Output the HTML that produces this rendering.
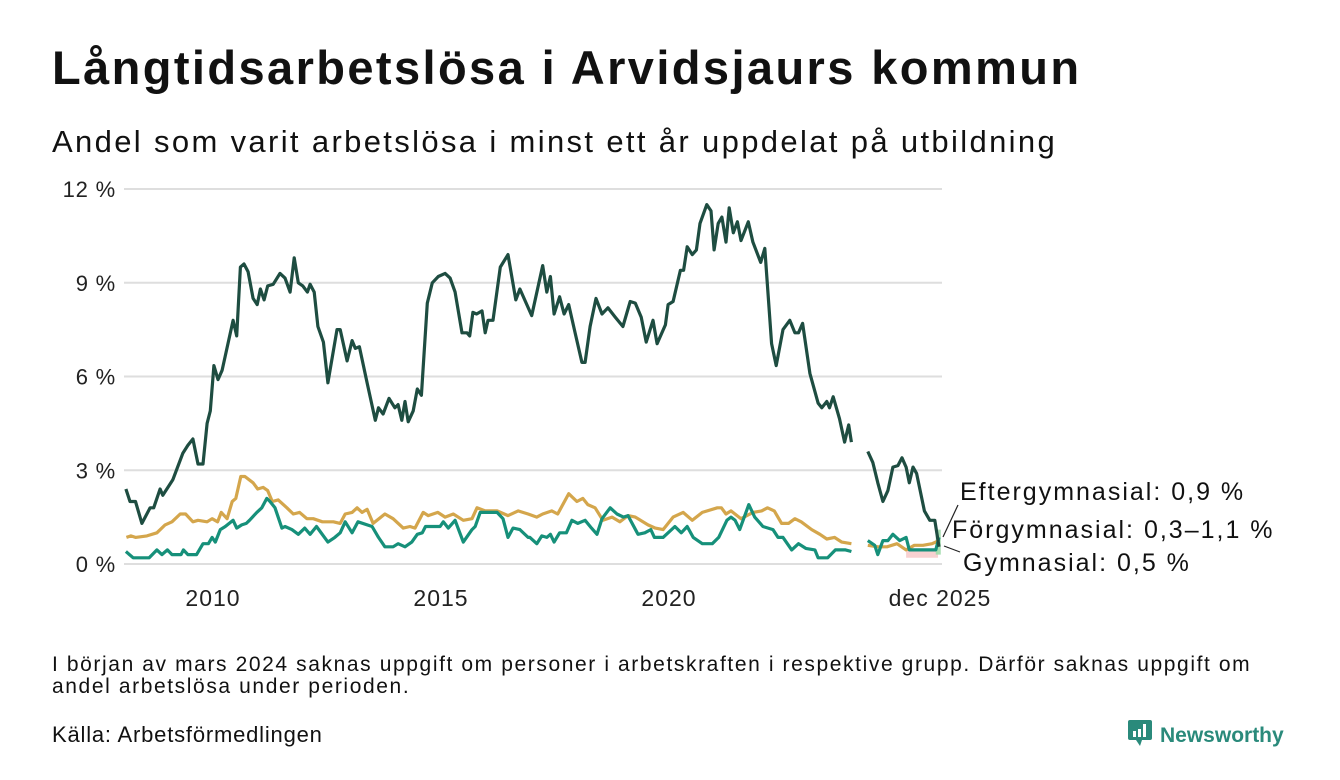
<!DOCTYPE html>
<html><head><meta charset="utf-8">
<style>
body{margin:0;background:#fff;width:1340px;height:780px;overflow:hidden;font-family:"Liberation Sans","DejaVu Sans",sans-serif;color:#111}
#title{position:absolute;left:52px;top:40px;font-size:47px;font-weight:bold;margin:0;letter-spacing:2.4px;white-space:nowrap}
#sub{position:absolute;left:52px;top:124px;font-size:31px;margin:0;letter-spacing:2.35px;white-space:nowrap}
#foot{position:absolute;left:52px;top:654px;font-size:21px;line-height:22px;width:1215px;letter-spacing:1.6px}
#src{position:absolute;left:52px;top:722px;font-size:22px;letter-spacing:0.8px}
#logo{position:absolute;left:1128px;top:718px;font-size:21px;color:#2a8a7b;font-weight:bold}
svg{position:absolute;left:0;top:0}
</style></head><body>
<h1 id="title">Långtidsarbetslösa i Arvidsjaurs kommun</h1>
<p id="sub">Andel som varit arbetslösa i minst ett år uppdelat på utbildning</p>
<svg id="chart" width="1340" height="780"></svg>
<div id="foot">I början av mars 2024 saknas uppgift om personer i arbetskraften i respektive grupp. Därför saknas uppgift om andel arbetslösa under perioden.</div>
<div id="src">Källa: Arbetsförmedlingen</div>
<div id="logo"><svg width="26" height="30" style="position:relative;vertical-align:-6px;margin-right:6px"><rect x="0" y="2" width="24" height="20" rx="2" fill="#2a8a7b"/><path d="M8 22 L12 28 L14 22Z" fill="#2a8a7b"/><rect x="5" y="13" width="3" height="6" fill="#fff"/><rect x="10" y="11" width="3" height="8" fill="#fff"/><rect x="15" y="6" width="3" height="13" fill="#fff"/></svg>Newsworthy</div>
<script>
const yTicks=[0,3,6,9,12];
const yTickLabels=["0 %","3 %","6 %","9 %","12 %"];
const xTicks=[2010,2015,2020,2025.92];
const xTickLabels=["2010","2015","2020","dec 2025"];
const forDates=[2008.09,2008.18,2008.3,2008.44,2008.62,2008.7,2008.84,2008.9,2009.12,2009.34,2009.45,2009.56,2009.67,2009.78,2009.87,2009.94,2010.02,2010.11,2010.2,2010.44,2010.52,2010.6,2010.68,2010.77,2010.88,2010.97,2011.04,2011.12,2011.2,2011.32,2011.47,2011.58,2011.69,2011.78,2011.87,2011.97,2012.07,2012.13,2012.22,2012.3,2012.42,2012.52,2012.72,2012.79,2012.94,2013.05,2013.12,2013.21,2013.38,2013.56,2013.63,2013.73,2013.86,2013.99,2014.06,2014.14,2014.21,2014.28,2014.39,2014.48,2014.57,2014.7,2014.81,2014.94,2015.09,2015.2,2015.31,2015.46,2015.57,2015.63,2015.7,2015.78,2015.9,2015.97,2016.03,2016.14,2016.3,2016.47,2016.64,2016.73,2016.99,2017.23,2017.32,2017.4,2017.48,2017.6,2017.7,2017.8,2017.94,2018.09,2018.16,2018.27,2018.4,2018.53,2018.66,2018.82,2018.99,2019.15,2019.26,2019.39,2019.5,2019.65,2019.74,2019.92,2019.98,2020.09,2020.25,2020.32,2020.4,2020.51,2020.6,2020.68,2020.83,2020.92,2020.99,2021.08,2021.16,2021.25,2021.32,2021.41,2021.5,2021.58,2021.74,2021.84,2022.01,2022.1,2022.25,2022.35,2022.5,2022.65,2022.76,2022.84,2022.93,2023.09,2023.27,2023.35,2023.46,2023.52,2023.6,2023.74,2023.85,2023.94,2024.0,null,2024.36,2024.47,2024.58,2024.69,2024.8,2024.91,2025.02,2025.11,2025.2,2025.27,2025.35,2025.43,2025.6,2025.72,2025.83,2025.92];
const forVals=[2.4,2.0,2.0,1.3,1.8,1.8,2.4,2.2,2.7,3.55,3.8,4.0,3.2,3.2,4.5,4.9,6.35,5.9,6.2,7.8,7.3,9.5,9.6,9.35,8.5,8.3,8.8,8.45,8.9,8.95,9.3,9.15,8.7,9.8,9.0,8.9,8.7,8.95,8.7,7.6,7.1,5.8,7.5,7.5,6.5,7.15,6.9,6.95,5.8,4.6,5.0,4.8,5.3,5.0,5.1,4.6,5.2,4.55,4.9,5.6,5.4,8.35,9.0,9.2,9.3,9.15,8.7,7.4,7.4,7.3,8.05,8.0,8.1,7.4,7.8,7.8,9.5,9.9,8.45,8.8,7.95,9.55,8.7,9.2,8.0,8.55,8.0,8.3,7.4,6.45,6.45,7.6,8.5,8.0,8.2,7.9,7.6,8.4,8.35,7.9,7.1,7.8,7.05,7.65,8.3,8.4,9.4,9.4,10.15,9.9,10.05,10.9,11.5,11.3,10.05,10.9,11.1,10.3,11.4,10.6,10.95,10.35,10.95,10.3,9.65,10.1,7.05,6.35,7.5,7.8,7.4,7.4,7.7,6.1,5.15,5.0,5.2,5.0,5.35,4.65,3.9,4.45,3.9,null,3.6,3.25,2.6,2.0,2.35,3.1,3.15,3.4,3.1,2.6,3.1,2.9,1.7,1.4,1.4,0.55];
const gymDates=[2008.1,2008.2,2008.3,2008.55,2008.77,2008.95,2009.1,2009.28,2009.4,2009.56,2009.67,2009.87,2009.98,2010.1,2010.18,2010.31,2010.42,2010.5,2010.61,2010.7,2010.88,2010.98,2011.1,2011.2,2011.3,2011.43,2011.62,2011.76,2011.9,2012.06,2012.2,2012.4,2012.64,2012.79,2012.9,2013.05,2013.16,2013.27,2013.38,2013.51,2013.77,2013.95,2014.17,2014.32,2014.43,2014.61,2014.72,2014.93,2015.09,2015.27,2015.49,2015.68,2015.79,2015.97,2016.23,2016.47,2016.69,2016.91,2017.1,2017.23,2017.43,2017.56,2017.8,2017.98,2018.11,2018.22,2018.38,2018.55,2018.75,2018.92,2019.1,2019.26,2019.54,2019.7,2019.87,2020.09,2020.31,2020.51,2020.73,2021.06,2021.15,2021.25,2021.36,2021.58,2021.84,2022.03,2022.16,2022.31,2022.47,2022.62,2022.76,2022.9,2023.13,2023.31,2023.46,2023.63,2023.79,2024.0,null,2024.36,2024.58,2024.78,2025.0,2025.2,2025.38,2025.57,2025.77,2025.92];
const gymVals=[0.85,0.9,0.85,0.9,1.0,1.25,1.35,1.6,1.6,1.35,1.4,1.35,1.45,1.35,1.65,1.45,2.0,2.1,2.8,2.8,2.6,2.4,2.45,2.35,2.0,2.05,1.8,1.6,1.65,1.45,1.45,1.35,1.35,1.3,1.6,1.65,1.8,1.65,1.75,1.3,1.6,1.45,1.15,1.2,1.15,1.65,1.55,1.65,1.5,1.6,1.4,1.45,1.8,1.7,1.7,1.55,1.7,1.6,1.5,1.6,1.7,1.6,2.25,2.0,2.1,1.9,1.8,1.4,1.5,1.35,1.55,1.5,1.25,1.15,1.1,1.5,1.65,1.4,1.65,1.8,1.8,1.6,1.7,1.45,1.65,1.7,1.8,1.7,1.3,1.3,1.45,1.35,1.1,0.95,0.8,0.85,0.7,0.65,null,0.6,0.55,0.55,0.65,0.45,0.6,0.6,0.65,0.75];
const eftDates=[2008.09,2008.25,2008.6,2008.77,2008.88,2009.0,2009.1,2009.3,2009.35,2009.45,2009.64,2009.78,2009.9,2009.98,2010.05,2010.16,2010.27,2010.44,2010.52,2010.63,2010.73,2010.8,2010.96,2011.07,2011.18,2011.25,2011.36,2011.51,2011.58,2011.73,2011.87,2012.01,2012.13,2012.27,2012.52,2012.67,2012.79,2012.9,2013.05,2013.18,2013.49,2013.63,2013.77,2013.95,2014.06,2014.21,2014.36,2014.48,2014.59,2014.66,2014.98,2015.05,2015.16,2015.31,2015.49,2015.68,2015.75,2015.86,2016.03,2016.23,2016.36,2016.47,2016.58,2016.73,2016.91,2016.95,2017.1,2017.21,2017.32,2017.4,2017.48,2017.6,2017.75,2017.87,2018.0,2018.16,2018.3,2018.42,2018.53,2018.71,2018.86,2019.0,2019.1,2019.32,2019.47,2019.6,2019.68,2019.87,2020.13,2020.27,2020.4,2020.53,2020.73,2020.95,2021.09,2021.27,2021.36,2021.45,2021.55,2021.75,2021.88,2022.06,2022.28,2022.39,2022.5,2022.69,2022.84,2023.0,2023.2,2023.27,2023.48,2023.65,2023.87,2024.0,null,2024.36,2024.51,2024.58,2024.69,2024.8,2024.91,2025.06,2025.2,2025.27,2025.35,2025.85,2025.92];
const eftVals=[0.4,0.2,0.2,0.45,0.3,0.45,0.3,0.3,0.45,0.3,0.3,0.65,0.65,0.85,0.7,1.1,1.2,1.4,1.15,1.25,1.3,1.4,1.65,1.8,2.1,2.0,1.8,1.15,1.2,1.1,0.95,1.15,0.95,1.2,0.7,0.85,1.0,1.35,1.0,1.35,1.2,0.85,0.55,0.55,0.65,0.55,0.7,0.95,1.0,1.2,1.2,1.35,1.15,1.4,0.7,1.1,1.2,1.65,1.65,1.65,1.45,0.85,1.15,1.1,0.85,0.85,0.65,0.9,0.85,0.95,0.7,1.0,1.0,1.4,1.3,1.4,1.15,0.95,1.45,1.8,1.6,1.5,1.55,0.95,1.0,1.1,0.85,0.85,1.2,1.0,1.2,0.85,0.65,0.65,0.85,1.4,1.5,1.4,1.1,1.9,1.5,1.2,1.1,0.85,0.85,0.45,0.65,0.5,0.45,0.2,0.2,0.45,0.45,0.4,null,0.75,0.6,0.3,0.75,0.75,0.95,0.75,0.85,0.45,0.45,0.45,0.85];

const NS='http://www.w3.org/2000/svg';
const svg=document.getElementById('chart');
const X0=2008,PX0=121.8,PPY=45.6,Y0=564,PPP=31.25,XR=942;
const xs=d=>PX0+(d-X0)*PPY;
const ys=v=>Y0-v*PPP;
function mk(tag,attrs){const e=document.createElementNS(NS,tag);for(const k in attrs)e.setAttribute(k,attrs[k]);svg.appendChild(e);return e;}
yTicks.forEach((t,i)=>{
  const g=mk('line',{x1:124,x2:XR,y1:ys(t),y2:ys(t),stroke:'#dedede','stroke-width':2});
  
  
  const tx=mk('text',{x:116,y:ys(t)+8,'text-anchor':'end','font-size':22,'letter-spacing':0.8,fill:'#222'});
  tx.textContent=yTickLabels[i];
  
  
});
xTicks.forEach((t,i)=>{
  const tx=mk('text',{x:xs(t)+(i==3?1:0),y:606,'text-anchor':'middle','font-size':23,'letter-spacing':1,fill:'#222'});
  tx.textContent=xTickLabels[i];
  
  
});
const band=mk('rect',{x:xs(2025.2),y:ys(0.5),width:xs(2025.9)-xs(2025.2),height:ys(0.2)-ys(0.5),fill:'#f6c6c6',opacity:0.8});


const band2=mk('rect',{x:xs(2025.85),y:ys(1.1),width:5,height:ys(0.3)-ys(1.1),fill:'#9fdca8',opacity:0.9});


function path(dates,vals){let d='',pen=false;dates.forEach((t,i)=>{if(t===null||vals[i]===null){pen=false;return;}d+=(pen?'L':'M')+xs(t).toFixed(1)+' '+ys(vals[i]).toFixed(1);pen=true;});return d;}
const series=[[gymDates,gymVals,'#d4a64c','line-gymnasial'],[eftDates,eftVals,'#16907a','line-eftergymnasial'],[forDates,forVals,'#1e4d41','line-forgymnasial']];
series.forEach(s=>{
  const p=mk('path',{d:path(s[0],s[1]),fill:'none',stroke:s[2],'stroke-width':3.2,'stroke-linejoin':'round'});
  
  
});
const labels=[["Eftergymnasial: 0,9 %",960,500],["Förgymnasial: 0,3–1,1 %",952,538],["Gymnasial: 0,5 %",963,571]];
labels.forEach(l=>{
  const tx=mk('text',{x:l[1],y:l[2],'font-size':25,'letter-spacing':2,fill:'#111'});
  tx.textContent=l[0];
  
  
});
const l1=mk('line',{x1:958,y1:505,x2:943,y2:537,stroke:'#222','stroke-width':1.2});


const l2=mk('line',{x1:960,y1:552,x2:944,y2:546,stroke:'#222','stroke-width':1.2});


</script>
</body></html>
